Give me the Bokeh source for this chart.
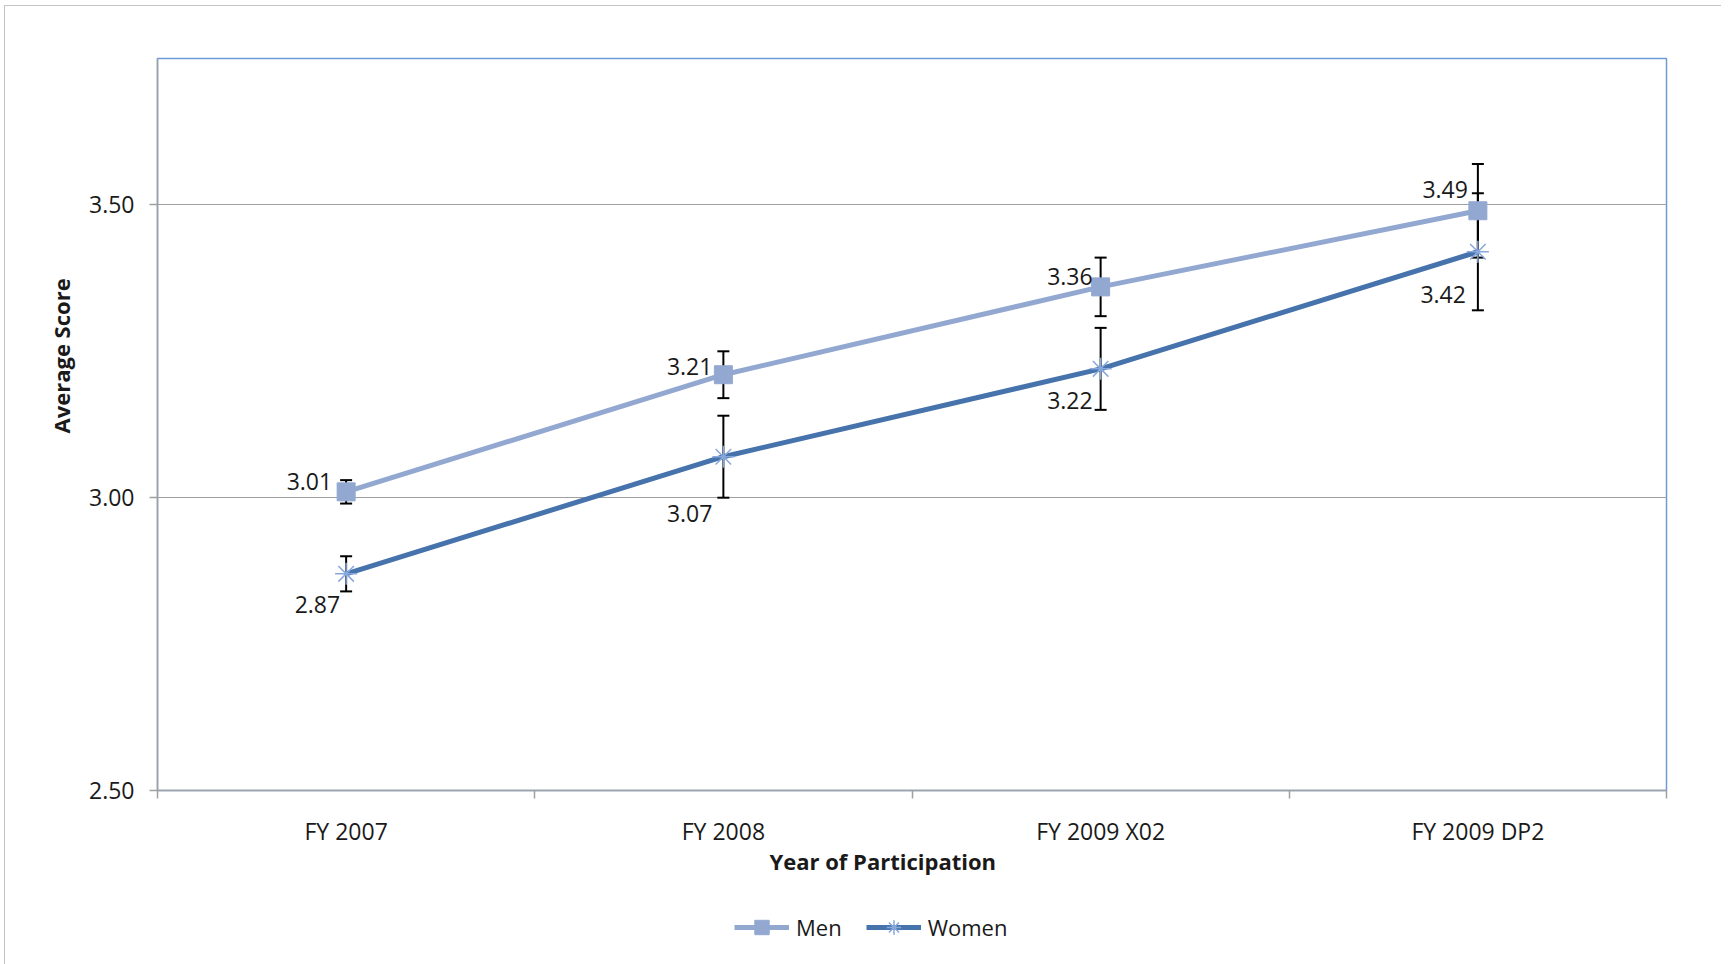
import numpy as np
from bokeh.plotting import figure
from bokeh.layouts import column
from bokeh.models import (ColumnDataSource, FixedTicker, Whisker, TeeHead, Legend,
                          LegendItem, NumeralTickFormatter, Range1d, Title)
from bokeh.core.properties import value
from bokeh.embed import file_html
from bokeh.resources import INLINE

# ---------------- data ----------------
categories = ["FY 2007", "FY 2008", "FY 2009 X02", "FY 2009 DP2"]
men_scores = [3.01, 3.21, 3.36, 3.49]
women_scores = [2.87, 3.07, 3.22, 3.42]
men_errors = [0.02, 0.04, 0.05, 0.08]
women_errors = [0.03, 0.07, 0.07, 0.10]
y_ticks = [2.50, 3.00, 3.50]

# data-label placement (screen pixels, style only)
men_label_dx = [-14, -11, -8, -10]
men_label_dy = [-10, -8, -10, -21]
women_label_dx = [-6, -11, -8, -12]
women_label_dy = [31, 57, 32, 43]

FONT = "Open Sans"
MEN_COLOR = "#92a8d1"
WOMEN_COLOR = "#4673ab"
WOMEN_MARK = "#86a8dc"
TXT = "#1a1a1a"

xs = [i + 0.5 for i in range(len(categories))]

men_src = ColumnDataSource(dict(
    x=xs, y=men_scores,
    upper=[v + e for v, e in zip(men_scores, men_errors)],
    lower=[v - e for v, e in zip(men_scores, men_errors)],
    label=[f"{v:.2f}" for v in men_scores],
    dx=men_label_dx, dy=men_label_dy))
women_src = ColumnDataSource(dict(
    x=xs, y=women_scores,
    upper=[v + e for v, e in zip(women_scores, women_errors)],
    lower=[v - e for v, e in zip(women_scores, women_errors)],
    label=[f"{v:.2f}" for v in women_scores],
    dx=women_label_dx, dy=women_label_dy))

p = figure(width=1716, height=900, output_backend="svg", toolbar_location=None,
           x_range=Range1d(0, len(categories)), y_range=Range1d(2.5, 3.75),
           min_border_left=152, min_border_right=55, min_border_top=52,
           min_border_bottom=116)

p.background_fill_color = "white"
p.border_fill_color = "white"
p.outline_line_color = "#6f9ad6"
p.outline_line_width = 1.5

# axes
AX = "#a0a0a0"
p.xaxis.ticker = FixedTicker(ticks=xs, minor_ticks=list(range(len(categories) + 1)))
p.xaxis.major_label_overrides = {x: c for x, c in zip(xs, categories)}
p.xaxis.major_tick_out = 0
p.xaxis.major_tick_in = 0
p.xaxis.minor_tick_out = 8
p.xaxis.minor_tick_in = 0
p.xaxis.minor_tick_line_color = AX
p.xaxis.minor_tick_line_width = 1.5
p.xaxis.major_label_standoff = 16

p.yaxis.ticker = FixedTicker(ticks=y_ticks)
p.yaxis.formatter = NumeralTickFormatter(format="0.00")
p.yaxis.major_tick_out = 8
p.yaxis.major_tick_in = 0
p.yaxis.minor_tick_line_color = None
p.yaxis.major_label_standoff = 15

for ax in (p.xaxis[0], p.yaxis[0]):
    ax.axis_line_color = AX
    ax.axis_line_width = 1.5
    ax.major_tick_line_color = AX
    ax.major_tick_line_width = 1.5
    ax.major_label_text_font = FONT
    ax.major_label_text_font_size = "23px"
    ax.major_label_text_color = TXT

# axis titles (as side titles so they can sit off-centre like the original)
p.add_layout(Title(text="Year of Participation", align="left", offset=612, standoff=-11,
                   text_font=FONT, text_font_size="22px", text_font_style="bold",
                   text_color=TXT), "below")
p.add_layout(Title(text="Average Score", align="left", offset=357, standoff=22,
                   text_font=FONT, text_font_size="22px", text_font_style="bold",
                   text_color=TXT), "left")

p.xgrid.visible = False
p.ygrid.ticker = FixedTicker(ticks=y_ticks)
p.ygrid.grid_line_color = "#a0a0a0"
p.ygrid.grid_line_width = 1.2

# error bars (under the lines)
for src in (men_src, women_src):
    w = Whisker(source=src, base="x", upper="upper", lower="lower", dimension="height",
                line_color="black", line_width=2,
                upper_head=TeeHead(size=12, line_color="black", line_width=2),
                lower_head=TeeHead(size=12, line_color="black", line_width=2))
    p.add_layout(w)

men_style = dict(line_color=MEN_COLOR, line_width=5)
men_mark_style = dict(marker="square", size=18, fill_color=MEN_COLOR, line_color=MEN_COLOR)
women_style = dict(line_color=WOMEN_COLOR, line_width=5)
women_mark_style = dict(marker="asterisk", size=22, line_color=WOMEN_MARK, line_width=1.5)

p.line("x", "y", source=men_src, **men_style)
p.scatter("x", "y", source=men_src, **men_mark_style)
p.line("x", "y", source=women_src, **women_style)
p.scatter("x", "y", source=women_src, **women_mark_style)

for src in (men_src, women_src):
    p.text("x", "y", text="label", source=src, x_offset="dx", y_offset="dy",
           text_align="right", text_baseline="middle", text_font=value(FONT),
           text_font_size="23px", text_color=TXT)

# legend strip below the chart (legend-only figure; its renderers hold NaN placeholders)
lf = figure(width=1716, height=58, output_backend="svg", toolbar_location=None,
            x_range=Range1d(0, 1), y_range=Range1d(0, 1), min_border=0)
lf.axis.visible = False
lf.grid.visible = False
lf.outline_line_color = None
lf.background_fill_color = "white"
lf.border_fill_color = "white"
placeholder = ColumnDataSource(dict(x=np.array([np.nan]), y=np.array([np.nan])))
lm_line = lf.line("x", "y", source=placeholder, **men_style)
lm_mark = lf.scatter("x", "y", source=placeholder, **men_mark_style)
lw_line = lf.line("x", "y", source=placeholder, **women_style)
lw_mark = lf.scatter("x", "y", source=placeholder, **women_mark_style)

legend = Legend(items=[LegendItem(label="Men", renderers=[lm_line, lm_mark]),
                       LegendItem(label="Women", renderers=[lw_line, lw_mark])],
                orientation="horizontal", location=(577, 19),
                label_text_font=FONT, label_text_font_size="22px",
                label_text_color=TXT,
                glyph_width=55, glyph_height=36, label_standoff=7, spacing=24,
                border_line_color=None, background_fill_alpha=0, padding=0, margin=0)
lf.add_layout(legend)

layout = column(p, lf, spacing=0)
layout.styles = {"border-left": "1px solid #c4c4c4", "border-top": "1px solid #c4c4c4",
                 "margin-left": "4px", "margin-top": "5px"}

open("out.html", "w").write(file_html(layout, INLINE))
